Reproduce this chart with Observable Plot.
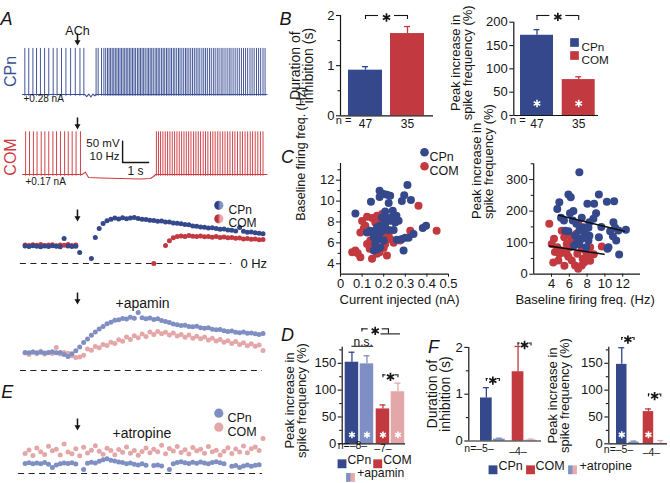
<!DOCTYPE html>
<html>
<head>
<meta charset="utf-8">
<script src="https://cdn.jsdelivr.net/npm/d3@7"></script>
<script src="https://cdn.jsdelivr.net/npm/@observablehq/plot@0.6"></script>
<style>
html,body{margin:0;padding:0;background:#fff;}
#root{position:relative;width:670px;height:483px;overflow:hidden;background:#fff;}
#root > svg{position:absolute;left:0;top:0;overflow:visible;background:none !important;max-width:none !important;}
</style>
</head>
<body>
<div id="root">
<svg width="0" height="0" aria-hidden="true">
  <defs>
    <linearGradient id="gCPn" x1="0" x2="1" y1="0" y2="0">
      <stop offset="0.4" stop-color="#2f4285"/><stop offset="0.65" stop-color="#8494c8"/>
    </linearGradient>
    <linearGradient id="gCOM" x1="0" x2="1" y1="0" y2="0">
      <stop offset="0.4" stop-color="#b9343a"/><stop offset="0.65" stop-color="#e9a7a9"/>
    </linearGradient>
    <linearGradient id="gDrug" x1="0" x2="1" y1="0" y2="0">
      <stop offset="0.4" stop-color="#8191c5"/><stop offset="0.6" stop-color="#e8abad"/>
    </linearGradient>
  </defs>
</svg>
</div>
<script>
// ===================== DATA =====================
// A: example traces (spike times in s) and baseline membrane potential (mV)
const achTime = 2.115;
const cpnSpikes = [0.09,0.24,0.40,0.54,0.69,0.85,1.01,1.18,1.33,1.50,1.67,1.85,2.03,2.21,2.36,
  2.83,2.91,3.04,3.13,3.20,3.27,3.33,3.39,3.45,3.51,3.57,3.63,3.69,3.75,3.81,3.87,3.93,3.99,4.05,4.11,4.17,4.23,4.29,4.35,
  4.42,4.48,4.54,4.60,4.66,4.72,4.79,4.85,4.91,4.97,5.03,5.10,5.16,5.22,5.28,5.35,5.41,5.47,5.54,5.60,5.67,5.73,5.80,5.86,
  5.93,6.00,6.06,6.13,6.20,6.27,6.33,6.40,6.47,6.54,6.61,6.68,6.75,6.82,6.90,6.97,7.04,7.11,7.19,7.26,7.34,7.41,7.49,7.56,
  7.64,7.71,7.79,7.87,7.95,8.02,8.10,8.18,8.26,8.34,8.42,8.50,8.58,8.66,8.75,8.83,8.91,9.00,9.08,9.16,9.25,9.33];
const comSpikes = [0.12,0.27,0.42,0.56,0.72,0.86,1.01,1.17,1.31,1.46,1.62,1.76,1.91,2.06,2.23,
  5.15,5.23,5.31,5.40,5.49,5.58,5.67,5.76,5.85,5.94,6.03,6.12,6.21,6.30,6.39,6.48,6.58,6.67,6.76,6.85,6.95,7.04,7.13,7.23,
  7.32,7.41,7.51,7.60,7.70,7.79,7.89,7.98,8.08,8.17,8.27,8.37,8.46,8.56,8.66,8.76,8.85,8.95,9.05,9.15,9.25];
const cpnBaseline = [[0,-65],[2.40,-65],[2.47,-70],[2.55,-64],[2.63,-71],[2.71,-64],[2.78,-68],[2.83,-65],[9.4,-65]];
const comBaseline = [[0,-65],[2.30,-65],[2.42,-59.6],[2.54,-72],[3.0,-73.2],[3.77,-74.4],[4.54,-75.6],[4.92,-74.4],[5.04,-69.7],[5.12,-65],[9.4,-65]];
const spikeTrough = -69, cpnSpikePeak = 43, comSpikePeak = 35;
const scaleBar = {t: 3.85, v: -37, mV: 50, s: 1};

// A/E: firing frequency (Hz) in consecutive time bins
const rateBins = {start: 0.1, step: 0.15};
const rateCPn = [8.3,8.1,8.4,8.2,8.0,8.3,8.1,8.4,8.2,8.0,11.9,8.3,8.1,8.2,5.2,null,null,2.4,12.4,16.7,19.0,20.4,21.0,21.6,
  21.2,21.8,21.3,21.6,21.9,21.4,21.0,20.9,20.6,20.5,20.1,20.2,19.7,19.8,19.3,19.1,18.9,18.6,18.4,17.9,17.7,17.4,17.3,16.9,
  17.0,16.6,16.3,16.4,15.9,15.8,15.5,17.1,15.3,14.9,15.0,14.6,14.4,14.2];
const rateCOM = [8.8,8.6,8.9,8.7,9.0,8.6,8.8,8.9,8.5,8.8,8.7,9.0,8.6,8.8,null,null,null,null,null,null,null,null,null,null,
  null,null,null,null,null,null,null,null,null,0,null,null,8.6,10.8,12.2,12.8,13.1,12.9,13.3,13.0,12.8,13.1,12.7,12.9,12.5,
  12.8,12.4,12.6,12.2,12.4,12.0,12.1,11.7,11.9,11.5,11.6,11.3,11.4];
const apaminCPn = [8.6,8.4,8.8,8.5,8.7,8.3,8.6,8.9,8.4,8.6,7.6,6.7,8.0,9.4,11.2,13.3,15.0,16.8,18.3,19.8,21.0,22.3,23.0,23.9,
  24.2,24.8,24.5,25.3,24.9,27.6,25.1,24.6,25.0,24.3,24.7,23.8,23.3,22.9,22.2,21.8,21.4,21.6,21.0,20.8,21.1,20.4,20.1,20.3,
  19.6,19.4,19.5,18.9,18.6,18.8,18.2,18.0,18.3,17.7,17.9,17.5,17.2,17.6];
const apaminCOM = [8.3,7.6,8.8,8.0,9.2,7.8,8.5,8.1,11.0,7.9,8.6,8.2,7.0,6.2,6.4,7.3,10.2,9.6,11.4,10.8,12.4,11.9,13.5,12.8,
  14.6,13.9,15.9,14.8,16.5,15.6,17.4,16.2,18.3,17.1,18.6,17.5,18.2,16.9,17.8,16.4,17.2,15.8,16.9,15.4,16.3,15.1,15.9,14.5,
  15.3,14.0,14.8,13.5,14.2,12.9,13.8,12.4,13.2,11.8,12.7,11.5,12.1,9.5];
const atropineCPn = [4.8,5.1,4.6,5.0,4.7,5.2,4.4,2.9,4.1,4.6,5.0,4.8,5.1,4.5,null,1.9,4.9,5.4,5.0,5.8,6.6,7.0,6.3,5.9,5.5,
  5.2,4.7,5.0,4.4,4.1,4.6,3.9,null,3.8,4.0,3.6,null,1.9,4.6,5.2,5.6,5.1,4.8,5.3,4.9,5.5,5.0,4.6,5.2,5.6,5.1,4.7,null,3.4,
  3.8,2.9,3.6,4.1,3.5,3.9,4.2,null];
const atropineCOM = [9.5,11.2,8.6,12.1,10.4,9.1,13.0,10.8,11.6,8.8,14.0,10.2,9.4,11.8,8.4,12.5,9.8,11.1,13.2,10.6,9.2,12.0,
  10.9,8.9,11.4,10.1,12.6,9.6,11.0,8.7,10.5,12.2,9.9,11.5,10.3,13.4,9.4,11.9,10.7,12.8,10.0,11.3,9.3,12.4,10.8,11.6,9.7,
  12.9,10.4,11.1,8.8,10.6,12.3,9.5,11.7,10.2,13.1,9.9,11.8,12.6,10.9,16.7];

// B: population bars
const bGroups = ["CPn", "COM"];
const bN = [47, 35];
const bInhibition = [0.91, 1.64], bInhibitionErr = [0.07, 0.14];
const bPeak = [172, 77], bPeakErr = [12, 6];

// C: scatter plots  [current (nA), baseline (Hz)]  and  [baseline (Hz), peak increase (%)]
const c1CPn = [[0.069,8.82],[0.141,9.93],[0.181,10.98],[0.200,10.67],[0.215,10.60],[0.230,10.50],[0.181,10.40],[0.223,9.81],
  [0.284,10.00],[0.295,10.57],[0.310,11.55],[0.326,10.10],[0.242,9.08],[0.235,8.44],[0.259,8.60],[0.253,7.96],[0.269,8.12],
  [0.230,8.12],[0.215,8.38],[0.192,8.44],[0.207,7.81],[0.184,7.65],[0.169,7.49],[0.138,7.17],[0.161,7.10],[0.184,7.00],
  [0.200,7.24],[0.223,7.24],[0.246,7.24],[0.154,6.53],[0.177,6.38],[0.200,6.22],[0.161,5.90],[0.184,5.58],[0.154,5.27],
  [0.170,5.40],[0.261,6.29],[0.284,6.38],[0.300,6.48],[0.315,6.48],[0.292,5.27],[0.338,6.86],[0.381,7.43],[0.396,7.65],
  [0.123,7.00],[0.207,9.00],[0.150,6.90]];
const c1COM = [[0.069,5.27],[0.054,5.10],[0.092,4.63],[0.080,5.00],[0.115,7.65],[0.131,7.17],[0.146,8.38],[0.161,7.96],
  [0.169,8.60],[0.192,8.76],[0.138,6.22],[0.154,5.74],[0.135,5.43],[0.146,4.48],[0.181,5.10],[0.207,5.90],[0.215,4.79],
  [0.230,6.38],[0.223,6.86],[0.200,6.70],[0.177,6.86],[0.323,7.17],[0.361,9.55],[0.445,7.17],[0.276,6.22],[0.100,8.10],
  [0.161,6.50],[0.123,5.90],[0.108,7.40],[0.184,8.20],[0.200,5.50],[0.169,4.95],[0.246,6.00],[0.123,8.50],[0.092,7.00]];
const c2CPn = [[7.13,323],[5.90,252.6],[6.16,244],[4.88,228],[4.65,207],[5.07,179],[6.08,193],[6.46,200],[6.39,170],[7.40,179],
  [8.03,223],[8.79,223],[9.32,252.6],[10.22,230],[11.04,231],[9.01,193],[8.71,175.6],[8.26,165],[10.96,165],[11.15,147],
  [10.59,136],[11.53,138.5],[12.36,140.7],[11.27,107],[10.29,80.5],[11.60,62.4],[9.32,117],[8.15,107],[8.26,122],[7.58,149],
  [7.13,138.5],[6.65,122.7],[5.90,136],[6.91,104.6],[6.54,91],[7.40,112],[7.89,85.6],[5.56,138],[10.40,85.6],[7.13,95],
  [7.70,133],[8.15,147],[6.80,160],[7.90,125],[9.60,150],[5.40,170],[10.90,120]];
const c2COM = [[3.75,160],[4.28,112],[4.02,96],[4.65,85.6],[4.39,70],[5.15,75],[4.77,43.4],[4.20,37],[5.71,96],[5.43,117],
  [6.28,107],[6.00,85],[5.71,64],[6.28,43.4],[6.65,27.6],[7.00,17],[7.40,27.6],[7.50,49],[6.90,65],[7.40,80.5],[7.89,70],
  [8.34,85.6],[8.05,60],[8.75,63],[9.65,87.8],[7.02,160],[6.80,128],[6.20,117],[5.15,138],[8.34,43],[7.70,38],[5.45,27],
  [4.90,64],[6.50,100],[5.90,55]];
const c2FitCPn = [[4.8,187],[12.2,136]];
const c2FitCOM = [[3.8,89],[9.9,63]];

// D and F: grouped bars
const dfGroups = ["CPn", "CPn", "COM", "COM"];
const dConds = ["control", "apamin", "control", "apamin"];
const dPeak = [152, 149, 65, 97], dPeakErr = [18.6, 15, 7.4, 16], dN = [8, 7];
const fConds = ["control", "atropine", "control", "atropine"];
const fInhibition = [0.92, 0.04, 1.48, 0.02], fInhibitionErr = [0.22, 0.02, 0.54, 0.02];
const fPeak = [148, 3, 60, 1], fPeakErr = [31, 2, 5, 5], fN = [5, 4];

// ===================== STYLE / HELPERS =====================
const root = document.getElementById("root");
const FONT = '"Liberation Sans", Arial, Helvetica, sans-serif';
const INK = "#161616";
const NAVY = "#34488b", RED = "#c2393f", LBLUE = "#7f8fc3", PINK = "#e4a7a9";
const TBLUE = "#3b4f95", TRED = "#cd3b41";
const colorOf = (g, c) => g === "CPn" ? (c === "control" ? NAVY : LBLUE) : (c === "control" ? RED : PINK);

// downward arrow symbol (shaft + filled head), size given by r
const arrowSymbol = {
  draw(ctx, size) {
    const h = Math.sqrt(size / Math.PI);
    const w = 0.75;
    ctx.moveTo(-w, -h); ctx.lineTo(w, -h); ctx.lineTo(w, h * 0.12);
    ctx.lineTo(h * 0.5, h * 0.12); ctx.lineTo(0, h); ctx.lineTo(-h * 0.5, h * 0.12);
    ctx.lineTo(-w, h * 0.12); ctx.closePath();
  }
};

function P(frame, opts) {
  const [x0, x1, y0, y1] = frame;
  const svg = Plot.plot(Object.assign({
    width: 670, height: 483,
    marginLeft: x0, marginRight: 670 - x1, marginTop: y0, marginBottom: 483 - y1,
    style: `font-family:${FONT};font-size:12px;color:${INK};background:none;overflow:visible;`
  }, opts));
  root.appendChild(svg);
  return svg;
}
const arrowMark = (dy) => Plot.dot([achTime], {x: d => d, frameAnchor: "top", dy, symbol: arrowSymbol, r: 6, fill: INK, stroke: "none"});
const letter = (L, dx, dy) => Plot.text([L], {frameAnchor: "top-left", dx, dy, fontSize: 18, fontStyle: "italic", textAnchor: "middle", fill: INK});
const binT = (d, i) => rateBins.start + rateBins.step * i;
const rateDots = (arr, fill) => Plot.dot(arr, {x: binT, y: d => d, filter: d => d !== null, r: 2.5, fill});
const dashed = (x1, x2) => Plot.ruleY([0], {x1, x2, stroke: "#222", strokeWidth: 1.2, strokeDasharray: "6,4.5"});
const xTime = {domain: [0, 9.4], axis: null};
const traceY = {domain: [-83.8, 52.2], axis: null};

// ===================== A: traces =====================
P([22, 266.4, 44, 102], {
  x: xTime, y: traceY,
  marks: [
    Plot.line(cpnBaseline, {x: d => d[0], y: d => d[1], stroke: TBLUE, strokeWidth: 1.1}),
    Plot.ruleX(cpnSpikes, {x: d => d, y1: spikeTrough, y2: cpnSpikePeak, stroke: TBLUE, strokeWidth: 0.95}),
    Plot.text(["CPn"], {frameAnchor: "left", dx: -12, dy: -2, rotate: -90, fill: TBLUE, fontSize: 16, textAnchor: "middle"}),
    Plot.text(["+0.28 nA"], {frameAnchor: "bottom-left", dx: 1, dy: -0.5, textAnchor: "start", fontSize: 10}),
    arrowMark(-5),
    Plot.text([achTime], {x: d => d, frameAnchor: "top", dy: -18, text: () => "ACh", fontSize: 12.5}),
    letter("A", -16, -32)
  ]
});

P([22, 266.4, 124, 182], {
  x: xTime, y: traceY,
  marks: [
    Plot.line(comBaseline, {x: d => d[0], y: d => d[1], stroke: TRED, strokeWidth: 1.1}),
    Plot.ruleX(comSpikes, {x: d => d, y1: spikeTrough, y2: comSpikePeak, stroke: TRED, strokeWidth: 0.95}),
    Plot.line([[scaleBar.t, scaleBar.v + scaleBar.mV], [scaleBar.t, scaleBar.v], [scaleBar.t + scaleBar.s, scaleBar.v]],
      {x: d => d[0], y: d => d[1], stroke: INK, strokeWidth: 1.4}),
    Plot.text(["50 mV"], {x: scaleBar.t, y: scaleBar.v + scaleBar.mV, dx: -3, dy: 2.5, textAnchor: "end", fontSize: 11.5}),
    Plot.text(["10 Hz"], {x: scaleBar.t, y: scaleBar.v, dx: -3, dy: -6, textAnchor: "end", fontSize: 11.5}),
    Plot.text(["1 s"], {x: scaleBar.t + scaleBar.s / 2, y: scaleBar.v, dy: 9, fontSize: 12}),
    Plot.text(["COM"], {frameAnchor: "left", dx: -12, dy: 3.5, rotate: -90, fill: TRED, fontSize: 16, textAnchor: "middle"}),
    Plot.text(["+0.17 nA"], {frameAnchor: "bottom-left", dx: 3, dy: 2, textAnchor: "start", fontSize: 10}),
    arrowMark(-1)
  ]
});

// A: firing frequency
P([22, 266.4, 205, 266], {
  x: xTime, y: {domain: [-1.43, 27.6], axis: null},
  marks: [
    dashed(-0.08, 8.05),
    Plot.text(["0 Hz"], {x: 8.38, y: 0, textAnchor: "start", fontSize: 13}),
    rateDots(rateCOM, RED),
    rateDots(rateCPn, NAVY),
    arrowMark(10),
    Plot.dot([0], {frameAnchor: "top-left", dx: 196.3, dy: -0.2, r: 4.6, fill: "url(#gCPn)"}),
    Plot.dot([0], {frameAnchor: "top-left", dx: 196.3, dy: 13.3, r: 4.6, fill: "url(#gCOM)"}),
    Plot.text(["CPn"], {frameAnchor: "top-left", dx: 206, dy: -0.2, textAnchor: "start", fontSize: 12}),
    Plot.text(["COM"], {frameAnchor: "top-left", dx: 206, dy: 13.3, textAnchor: "start", fontSize: 12})
  ]
});

P([22, 266.4, 292, 372], {
  x: xTime, y: {domain: [-0.95, 37.14], axis: null},
  marks: [
    dashed(-0.08, 9.23),
    rateDots(apaminCOM, PINK),
    rateDots(apaminCPn, LBLUE),
    arrowMark(6),
    Plot.text(["+apamin"], {x: achTime, frameAnchor: "top", dx: 38, dy: 6, textAnchor: "start", fontSize: 14})
  ]
});

// E
P([22, 266.4, 410, 476], {
  x: xTime, y: {domain: [-1.43, 30], axis: null},
  marks: [
    dashed(-0.15, 9.23),
    rateDots(atropineCOM, PINK),
    rateDots(atropineCPn, LBLUE),
    arrowMark(14),
    Plot.text(["+atropine"], {x: achTime, frameAnchor: "top", dx: 35, dy: 18, textAnchor: "start", fontSize: 14}),
    Plot.dot([0], {frameAnchor: "top-left", dx: 196.3, dy: 2.7, r: 4.6, fill: LBLUE}),
    Plot.dot([0], {frameAnchor: "top-left", dx: 196.3, dy: 16.7, r: 4.6, fill: PINK}),
    Plot.text(["CPn"], {frameAnchor: "top-left", dx: 205, dy: 2.7, textAnchor: "start", fontSize: 12.5}),
    Plot.text(["COM"], {frameAnchor: "top-left", dx: 205, dy: 16.7, textAnchor: "start", fontSize: 12.5}),
    letter("E", -15.3, -25)
  ]
});

// ===================== bar chart builder =====================
function bracket(xa, xb, v, k, armPx, gapPx, starDyPx) {
  const m = (xa + xb) / 2, arm = armPx / k;
  return [
    Plot.ruleY([[xa, m - gapPx], [m + gapPx, xb]], {x1: d => d[0], x2: d => d[1], y: v, stroke: INK, strokeWidth: 1.1}),
    Plot.ruleX([xa, xb], {x: d => d, y1: v - arm, y2: v, stroke: INK, strokeWidth: 1.1}),
    Plot.dot([m], {x: d => d, y: v, dy: starDyPx, symbol: "asterisk", r: 3.9, stroke: INK, strokeWidth: 1.7})
  ];
}

function barPanel(cfg) {
  const [x0, x1, y0, y1] = cfg.frame;
  const k = (y1 - y0) / (cfg.yDomain[1] - cfg.yDomain[0]);
  const L = cfg.layout;
  const idx = cfg.values.map((_, i) => i);
  const g = i => cfg.groupOrder.indexOf(cfg.groups[i]);
  const s = i => cfg.condOrder.indexOf(cfg.conds[i]);
  const left = i => L.offset + g(i) * L.group + s(i) * L.sub;
  const mid = i => left(i) + L.width / 2;
  const col = i => colorOf(cfg.groups[i], cfg.conds[i]);
  const pairMid = gi => { const m = idx.filter(i => g(i) === gi).map(mid); return (Math.min(...m) + Math.max(...m)) / 2; };
  const firstOf = gi => idx.find(i => g(i) === gi);
  const top = i => cfg.values[i] + cfg.errs[i];
  const marks = [
    Plot.rect(idx, {x1: left, x2: i => left(i) + L.width, y1: 0, y2: i => cfg.values[i], fill: col}),
    Plot.ruleX(idx, {x: mid, y1: i => cfg.values[i], y2: top, stroke: col, strokeWidth: 1.3}),
    Plot.ruleY(idx, {y: top, x1: i => mid(i) - 3, x2: i => mid(i) + 3, stroke: col, strokeWidth: 1.3}),
    Plot.ruleX([0], {stroke: INK, strokeWidth: 1.2}),
    Plot.ruleY([0], {stroke: INK, strokeWidth: 1.2}),
    Plot.axisY({ticks: cfg.ticks, tickSize: 4, tickPadding: 2, fontSize: cfg.tickFont || 13, tickFormat: d => String(d), label: null, strokeWidth: 1.1})
  ];
  if (cfg.minor) marks.push(Plot.axisY({ticks: cfg.minor, tickSize: 2.5, tickFormat: () => "", label: null, strokeWidth: 1.1}));
  if (cfg.whiteStars) marks.push(Plot.dot(cfg.whiteStars, {x: mid, y: 0, dy: -cfg.whiteStarPx, symbol: "asterisk", r: cfg.whiteStarR || 3.4, stroke: "white", strokeWidth: 1.6}));
  if (cfg.yLabel) marks.push(Plot.text([cfg.yLabel], {frameAnchor: "left", dx: cfg.yLabelDx, dy: cfg.yLabelDy || 0, rotate: -90, fontSize: cfg.yLabelFont || 14, lineHeight: 0.93, textAnchor: "middle"}));
  const extra = cfg.extra ? cfg.extra({mid, left, pairMid, firstOf, k, idx, top}) : [];
  return P(cfg.frame, {
    x: {domain: [0, x1 - x0], axis: null},
    y: {domain: cfg.yDomain, axis: null},
    color: {type: "identity"},
    marks: marks.concat(extra)
  });
}

// n labels for grouped bars: "n=–a–" under first group, "–b–" under the second
const nLabels = (nArr, firstOf, mid, dy, dxFirst, dxSecond) => [
  Plot.text([`n=\u2013${nArr[0]}\u2013`], {frameAnchor: "bottom-left", dx: dxFirst, dy, fontSize: 10.5, textAnchor: "start"}),
  Plot.text([1], {x: gi => mid(firstOf(gi)), y: 0, dy, dx: dxSecond, text: gi => `\u2013${nArr[gi]}\u2013`, fontSize: 10.5})
];

// ===================== B =====================
barPanel({
  frame: [340, 433, 15, 115.3], yDomain: [0, 2], ticks: [0, 1, 2], minor: [0.5, 1.5],
  values: bInhibition, errs: bInhibitionErr, groups: bGroups, conds: ["control", "control"],
  groupOrder: bGroups, condOrder: ["control"], layout: {offset: 8, group: 42, sub: 0, width: 34},
  yLabel: "Duration of\ninhibition (s)", yLabelDx: -38.5,
  extra: ({mid, k}) => [
    ...bracket(mid(0), mid(1), 2.0, k, 4, 8, 2),
    Plot.text(["n ="], {frameAnchor: "bottom-left", dx: 3, dy: 8.5, fontSize: 11, textAnchor: "middle"}),
    Plot.text([0, 1], {x: mid, y: 0, dy: 8.5, text: i => bN[i], fontSize: 12}),
    letter("B", -55, -3)
  ]
});

barPanel({
  frame: [513.3, 598, 21.7, 115], yDomain: [0, 200], ticks: [0, 50, 100, 150, 200],
  values: bPeak, errs: bPeakErr, groups: bGroups, conds: ["control", "control"],
  groupOrder: bGroups, condOrder: ["control"], layout: {offset: 6.7, group: 41.7, sub: 0, width: 33},
  whiteStars: [0, 1], whiteStarPx: 12, whiteStarR: 3.6,
  yLabel: "Peak increase in\nspike frequency (%)", yLabelDx: -52.1, yLabelDy: -6, yLabelFont: 13,
  extra: ({mid, k}) => [
    ...bracket(mid(0), mid(1), 214.4, k, 5, 8, 1.5),
    Plot.text(["n ="], {frameAnchor: "bottom-left", dx: 4, dy: 8.5, fontSize: 11, textAnchor: "middle"}),
    Plot.text([0, 1], {x: mid, y: 0, dy: 8.5, text: i => bN[i], fontSize: 12}),
    Plot.dot([0], {frameAnchor: "top-left", dx: 60.7, dy: 20.3, symbol: "square", r: 4.9, fill: NAVY}),
    Plot.dot([0], {frameAnchor: "top-left", dx: 60.7, dy: 33.3, symbol: "square", r: 4.9, fill: RED}),
    Plot.text(["CPn"], {frameAnchor: "top-left", dx: 67.7, dy: 20.3, textAnchor: "start", fontSize: 11.7}),
    Plot.text(["COM"], {frameAnchor: "top-left", dx: 67.7, dy: 33.3, textAnchor: "start", fontSize: 11.7})
  ]
});

// ===================== C =====================
const axisLines = (x, y) => [Plot.ruleX([x], {stroke: INK, strokeWidth: 1.2}), Plot.ruleY([y], {stroke: INK, strokeWidth: 1.2})];
P([340, 448, 163, 273.7], {
  x: {domain: [0, 0.5], axis: null}, y: {domain: [3, 13.6], axis: null},
  marks: [
    ...axisLines(0, 3),
    Plot.axisY({ticks: [4, 6, 8, 10, 12], tickSize: 4, tickPadding: 2, fontSize: 13, label: null}),
    Plot.axisY({ticks: [5, 7, 9, 11, 13], tickSize: 2.5, tickFormat: () => "", label: null}),
    Plot.axisX({ticks: [0, 0.1, 0.2, 0.3, 0.4, 0.5], tickSize: 3, tickPadding: 2, fontSize: 13, label: null,
      tickFormat: d => d === 0 ? "0" : d.toFixed(1)}),
    Plot.dot(c1COM, {x: d => d[0], y: d => d[1], r: 4, fill: RED}),
    Plot.dot(c1CPn, {x: d => d[0], y: d => d[1], r: 4, fill: NAVY}),
    Plot.dot([0], {frameAnchor: "top-left", dx: 84, dy: -11.3, r: 4.3, fill: NAVY}),
    Plot.dot([0], {frameAnchor: "top-left", dx: 84, dy: 2.7, r: 4.3, fill: RED}),
    Plot.text(["CPn"], {frameAnchor: "top-left", dx: 89, dy: -11.3, textAnchor: "start", fontSize: 12.5}),
    Plot.text(["COM"], {frameAnchor: "top-left", dx: 89, dy: 2.7, textAnchor: "start", fontSize: 12.5}),
    Plot.text(["Current injected (nA)"], {frameAnchor: "bottom", dx: 5, dy: 29.5, fontSize: 13}),
    Plot.text(["Baseline firing freq. (Hz)"], {frameAnchor: "left", dx: -40, dy: 2, rotate: -90, fontSize: 12.5}),
    letter("C", -53, -13)
  ]
});

P([533.2, 640, 163.3, 273.7], {
  x: {domain: [2, 14], axis: null}, y: {domain: [0, 350], axis: null},
  marks: [
    ...axisLines(2, 0),
    Plot.axisY({ticks: [0, 100, 200, 300], tickSize: 4, tickPadding: 2, fontSize: 13, label: null}),
    Plot.axisY({ticks: [50, 150, 250, 350], tickSize: 2.5, tickFormat: () => "", label: null}),
    Plot.axisX({ticks: [4, 6, 8, 10, 12], tickSize: 3, tickPadding: 2, fontSize: 13, label: null}),
    Plot.dot(c2COM, {x: d => d[0], y: d => d[1], r: 4, fill: RED}),
    Plot.dot(c2CPn, {x: d => d[0], y: d => d[1], r: 4, fill: NAVY}),
    Plot.line(c2FitCPn, {x: d => d[0], y: d => d[1], stroke: "#111", strokeWidth: 1.6}),
    Plot.line(c2FitCOM, {x: d => d[0], y: d => d[1], stroke: "#111", strokeWidth: 1.6}),
    Plot.text(["Baseline firing freq. (Hz)"], {frameAnchor: "bottom", dx: -2, dy: 29.5, fontSize: 13}),
    Plot.text(["Peak increase in\nspike frequency (%)"], {frameAnchor: "left", dx: -50.7, rotate: -90, fontSize: 13, lineHeight: 0.93})
  ]
});

// ===================== D =====================
barPanel({
  frame: [341.7, 405, 346.7, 443.3], yDomain: [0, 180], ticks: [0, 50, 100, 150], minor: [25, 75, 125, 175],
  values: dPeak, errs: dPeakErr, groups: dfGroups, conds: dConds,
  groupOrder: bGroups, condOrder: ["control", "apamin"], layout: {offset: 3, group: 31, sub: 15, width: 13.5},
  whiteStars: [0, 1, 2, 3], whiteStarPx: 9, whiteStarR: 3.2,
  yLabel: "Peak increase in\nspike frequency (%)", yLabelDx: -45.7, yLabelDy: 5, yLabelFont: 13,
  extra: ({mid, left, pairMid, firstOf, k}) => {
    const cp = pairMid(0), cm = pairMid(1);
    const xa = cp + 2.5, xb = cm - 2, xs = (xa + xb) / 2;
    return [
      Plot.text(["n.s."], {x: cp + 3.7, y: 189.2, fontSize: 12}),
      Plot.ruleY([181.7], {x1: mid(0), x2: left(1) + 13.5, stroke: INK, strokeWidth: 1}),
      Plot.ruleY([[xa, xs - 7], [xs + 7, xb]], {x1: d => d[0], x2: d => d[1], y: 214.2, stroke: INK, strokeWidth: 1.1}),
      Plot.ruleX([xa], {x: d => d, y1: 208.2, y2: 214.2, stroke: INK, strokeWidth: 1.1}),
      Plot.ruleX([xb], {x: d => d, y1: 204.8, y2: 214.2, stroke: INK, strokeWidth: 1.1}),
      Plot.ruleY([204.8], {x1: mid(2) - 2, x2: mid(3) + 2.5, stroke: INK, strokeWidth: 1.1}),
      Plot.dot([xs], {x: d => d, y: 214.2, dy: 2, symbol: "asterisk", r: 3.9, stroke: INK, strokeWidth: 1.7}),
      ...bracket(mid(2), mid(3), 128.5, k, 3, 4.5, 2),
      ...nLabels(dN, firstOf, mid, 5, -4.5, 0),
      Plot.dot([0], {frameAnchor: "bottom-left", dx: -0.2, dy: 20, symbol: "square", r: 5, fill: NAVY}),
      Plot.text(["CPn"], {frameAnchor: "bottom-left", dx: 5.3, dy: 20, textAnchor: "start", fontSize: 12.2}),
      Plot.dot([0], {frameAnchor: "bottom-left", dx: 35.5, dy: 20, symbol: "square", r: 5, fill: RED}),
      Plot.text(["COM"], {frameAnchor: "bottom-left", dx: 41, dy: 20, textAnchor: "start", fontSize: 12.2}),
      Plot.dot([0], {frameAnchor: "bottom-left", dx: 8.3, dy: 33.6, symbol: "square", r: 5, fill: "url(#gDrug)"}),
      Plot.text(["+apamin"], {frameAnchor: "bottom-left", dx: 15, dy: 33.6, textAnchor: "start", fontSize: 12.2}),
      letter("D", -54.7, -18.7)
    ];
  }
});

// ===================== F =====================
barPanel({
  frame: [468.3, 541, 346.9, 440.5], yDomain: [0, 2], ticks: [0, 1, 2], minor: [0.5, 1.5],
  values: fInhibition, errs: fInhibitionErr, groups: dfGroups, conds: fConds,
  groupOrder: bGroups, condOrder: ["control", "atropine"], layout: {offset: 11.7, group: 31.7, sub: 13, width: 11.7},
  yLabel: "Duration of\ninhibition (s)", yLabelDx: -29.3,
  extra: ({mid, firstOf, k}) => [
    ...bracket(mid(0), mid(1), 1.335, k, 3, 4.5, 2),
    ...bracket(mid(2), mid(3), 2.094, k, 3, 4.5, 2),
    ...nLabels(fN, firstOf, mid, 11, -4.5, 0),
    Plot.dot([0], {frameAnchor: "bottom-left", dx: 24.2, dy: 28.8, symbol: "square", r: 5, fill: NAVY}),
    Plot.text(["CPn"], {frameAnchor: "bottom-left", dx: 29.7, dy: 28.8, textAnchor: "start", fontSize: 12.5}),
    Plot.dot([0], {frameAnchor: "bottom-left", dx: 61.7, dy: 28.8, symbol: "square", r: 5, fill: RED}),
    Plot.text(["COM"], {frameAnchor: "bottom-left", dx: 66.7, dy: 28.8, textAnchor: "start", fontSize: 12.5}),
    Plot.dot([0], {frameAnchor: "bottom-left", dx: 103.7, dy: 28.8, symbol: "square", r: 5, fill: "url(#gDrug)"}),
    Plot.text(["+atropine"], {frameAnchor: "bottom-left", dx: 110.7, dy: 28.8, textAnchor: "start", fontSize: 12.5}),
    letter("F", -35.3, -6.9)
  ]
});

barPanel({
  frame: [608.3, 667, 346.7, 443.3], yDomain: [0, 180], ticks: [0, 50, 100, 150], minor: [25, 75, 125, 175],
  values: fPeak, errs: fPeakErr, groups: dfGroups, conds: fConds,
  groupOrder: bGroups, condOrder: ["control", "atropine"], layout: {offset: 7.7, group: 26.7, sub: 12.3, width: 10.5},
  whiteStars: [0, 2], whiteStarPx: 9, whiteStarR: 3.3,
  yLabel: "Peak increase in\nspike frequency (%)", yLabelDx: -50, yLabelFont: 13,
  extra: ({mid, firstOf, k}) => [
    ...bracket(mid(0), mid(1), 198, k, 3, 4.5, 2),
    ...bracket(mid(2), mid(3), 92.7, k, 3, 4.5, 2),
    ...nLabels(fN, firstOf, mid, 9, -5, 3)
  ]
});
</script>
</body>
</html>
